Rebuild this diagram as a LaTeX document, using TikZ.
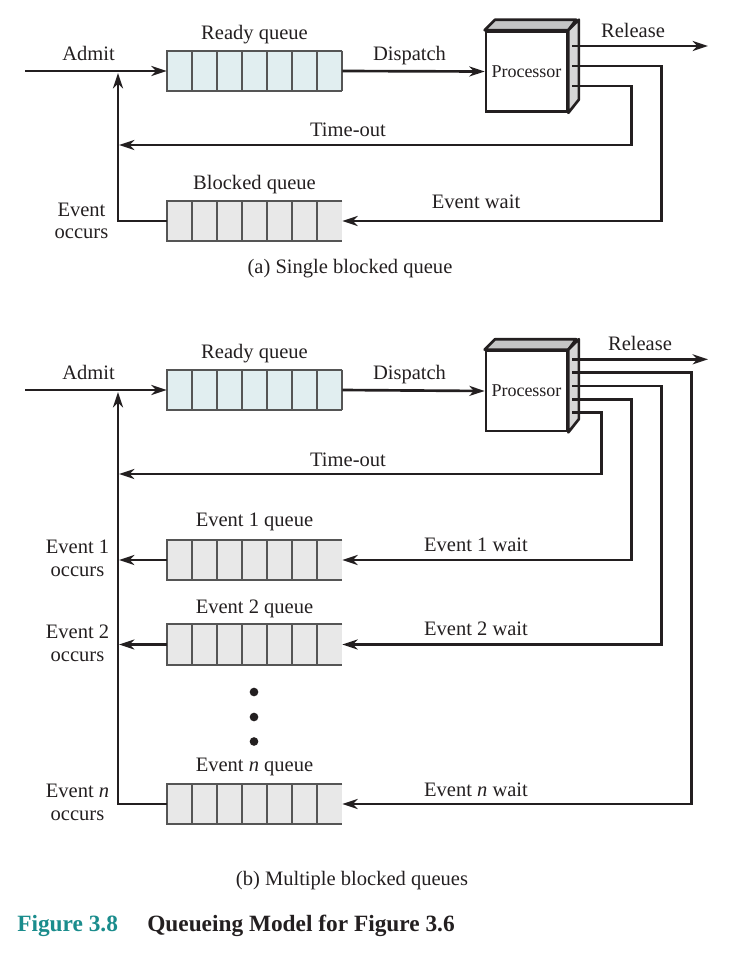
\documentclass[tikz,border=0pt]{standalone}
\usepackage{fontspec}
\setmainfont{Liberation Serif}
\usetikzlibrary{calc,arrows.meta}
\definecolor{txt}{HTML}{231F20}
\definecolor{readyfill}{HTML}{E1EEF0}
\definecolor{blockfill}{HTML}{E8E8E8}
\definecolor{qborder}{HTML}{555555}
\definecolor{topgray}{HTML}{C4C4C4}
\definecolor{sidegray}{HTML}{D6D6D6}
\definecolor{figteal}{HTML}{1A8C8C}
\newcommand\qbox[4]{%
  \node[qnode, fill=#4] (#1) at (#2,#3) {};
  \foreach \i in {1,...,6}
    \draw[qline] ($(#1.north west)!\i/7!(#1.north east)$) -- ($(#1.south west)!\i/7!(#1.south east)$);
  \draw[qline] (#1.north east) -- (#1.north west) -- (#1.south west) -- (#1.south east);
}
\newcommand\procbox[3]{%
  \node[procnode] (#1) at (#2,#3) {Processor};
  \filldraw[procline, fill=topgray] (#1.north west) -- ++(10.5,-10.5) -- ++(81,0) -- (#1.north east) -- cycle;
  \filldraw[procline, fill=sidegray] (#1.north east) -- ++(10.5,-10.5) -- ++(0,80) -- (#1.south east) -- cycle;
}
\begin{document}
\begin{tikzpicture}[x=0.75pt,y=-0.75pt,
  lbl/.style={font=\fontsize{15.4}{18}\selectfont, text=txt, anchor=base, inner sep=0pt},
  qnode/.style={rectangle, minimum width=131.25pt, minimum height=30pt, inner sep=0pt, draw=none},
  qline/.style={draw=qborder, line width=1.3pt},
  procnode/.style={rectangle, draw=txt, line width=2pt, fill=white, minimum width=60.75pt, minimum height=60pt, inner sep=0pt, font=\fontsize{13.5}{16}\selectfont, text=txt},
  procline/.style={draw=txt, line width=2pt, line join=round},
  conn/.style={draw=txt, line width=2pt, -{Stealth[length=11.5pt, width=7.5pt, inset=3.5pt]}},
  dot/.style={circle, fill=txt, inner sep=0pt, minimum size=6.5pt}
]
\useasboundingbox (0,0) rectangle (732,972);

% ================= (a) =================
\qbox{RQa}{254.5}{71}{readyfill}
\draw[qline] (RQa.north east) -- (RQa.south east);
\qbox{BQa}{254.5}{221}{blockfill}
\procbox{Pa}{526.5}{71.5}

\coordinate (inA) at (25,71);
\coordinate (pa1) at (572,46);
\coordinate (pa2) at (572,66);
\coordinate (pa3) at (572,86);
\coordinate (relA) at (708,46);
\coordinate (toA) at (631.5,145);
\coordinate (toAend) at (119,145);
\coordinate (ewA) at (661.5,221);
\coordinate (admA) at (118,73);

\draw[conn] (inA) -- (RQa.west);
\draw[conn] (RQa.east) -- (Pa.west);
\draw[conn] (pa1) -- (relA);
\draw[conn] (pa3) -| (toA) -- (toAend);
\draw[conn] (pa2) -| (ewA) -- (BQa.east);
\draw[conn] (BQa.west) -| (admA);

\node[lbl] (admitA) at (88.5,60) {Admit};
\node[lbl] (rqlA) at (254.5,39) {Ready queue};
\node[lbl] (dispA) at (409.5,60) {Dispatch};
\node[lbl] (relLA) at (633,37) {Release};
\node[lbl] (timeA) at (348,136.5) {Time-out};
\node[lbl] (bqlA) at (254.5,189) {Blocked queue};
\node[lbl] (ewlA) at (476,208) {Event wait};
\node[lbl] (eoA1) at (81.5,216.5) {Event};
\node[lbl] (eoA2) at (81.5,238) {occurs};
\node[lbl] (capA) at (350,273) {(a) Single blocked queue};

% ================= (b) =================
\qbox{RQb}{254.5}{390}{readyfill}
\draw[qline] (RQb.north east) -- (RQb.south east);
\qbox{E1Q}{254.5}{560}{blockfill}
\qbox{E2Q}{254.5}{644.5}{blockfill}
\qbox{ENQ}{254.5}{804}{blockfill}
\procbox{Pb}{526.5}{391}

\coordinate (inB) at (25,390);
\coordinate (pb1) at (572,359.3);
\coordinate (pb2) at (572,372.7);
\coordinate (pb3) at (572,386);
\coordinate (pb4) at (572,399.3);
\coordinate (pb5) at (572,412.7);
\coordinate (relB) at (708,359.3);
\coordinate (toB) at (601.5,474);
\coordinate (toBend) at (119,474);
\coordinate (w1) at (631.5,560);
\coordinate (w2) at (661.5,644.5);
\coordinate (wn) at (691.5,804);
\coordinate (o1) at (119,560);
\coordinate (o2) at (119,644.5);
\coordinate (admB) at (118,392);

\draw[conn] (inB) -- (RQb.west);
\draw[conn] (RQb.east) -- (Pb.west);
\draw[conn] (pb1) -- (relB);
\draw[conn] (pb5) -| (toB) -- (toBend);
\draw[conn] (pb4) -| (w1) -- (E1Q.east);
\draw[conn] (pb3) -| (w2) -- (E2Q.east);
\draw[conn] (pb2) -| (wn) -- (ENQ.east);
\draw[conn] (E1Q.west) -- (o1);
\draw[conn] (E2Q.west) -- (o2);
\draw[conn] (ENQ.west) -| (admB);

\node[dot] (d1) at (254,692) {};
\node[dot] (d2) at (254,717) {};
\node[dot] (d3) at (254,741.5) {};

\node[lbl] (admitB) at (88.5,379) {Admit};
\node[lbl] (rqlB) at (254.5,358) {Ready queue};
\node[lbl] (dispB) at (409.5,379) {Dispatch};
\node[lbl] (relLB) at (640,350.5) {Release};
\node[lbl] (timeB) at (348,466) {Time-out};
\node[lbl] (e1ql) at (254.5,526.5) {Event 1 queue};
\node[lbl] (e2ql) at (254.5,613) {Event 2 queue};
\node[lbl] (enql) at (254.5,771.5) {Event \textit{n} queue};
\node[lbl] (e1wl) at (476,551) {Event 1 wait};
\node[lbl] (e2wl) at (476,635.5) {Event 2 wait};
\node[lbl] (enwl) at (476,796) {Event \textit{n} wait};
\node[lbl] (e1o1) at (77.5,553) {Event 1};
\node[lbl] (e1o2) at (77.5,576) {occurs};
\node[lbl] (e2o1) at (77.5,638) {Event 2};
\node[lbl] (e2o2) at (77.5,661) {occurs};
\node[lbl] (eno1) at (77.5,797) {Event \textit{n}};
\node[lbl] (eno2) at (77.5,820) {occurs};
\node[lbl] (capB) at (352,885) {(b) Multiple blocked queues};

% ================= caption =================
\node[font=\fontsize{17.5}{20}\bfseries, text=figteal, anchor=base west, inner sep=0pt] (fig) at (17,931.5) {Figure 3.8};
\node[font=\fontsize{17.5}{20}\bfseries, text=txt, anchor=base west, inner sep=0pt] (figtitle) at (147,931.5) {Queueing Model for Figure 3.6};
\end{tikzpicture}
\end{document}
